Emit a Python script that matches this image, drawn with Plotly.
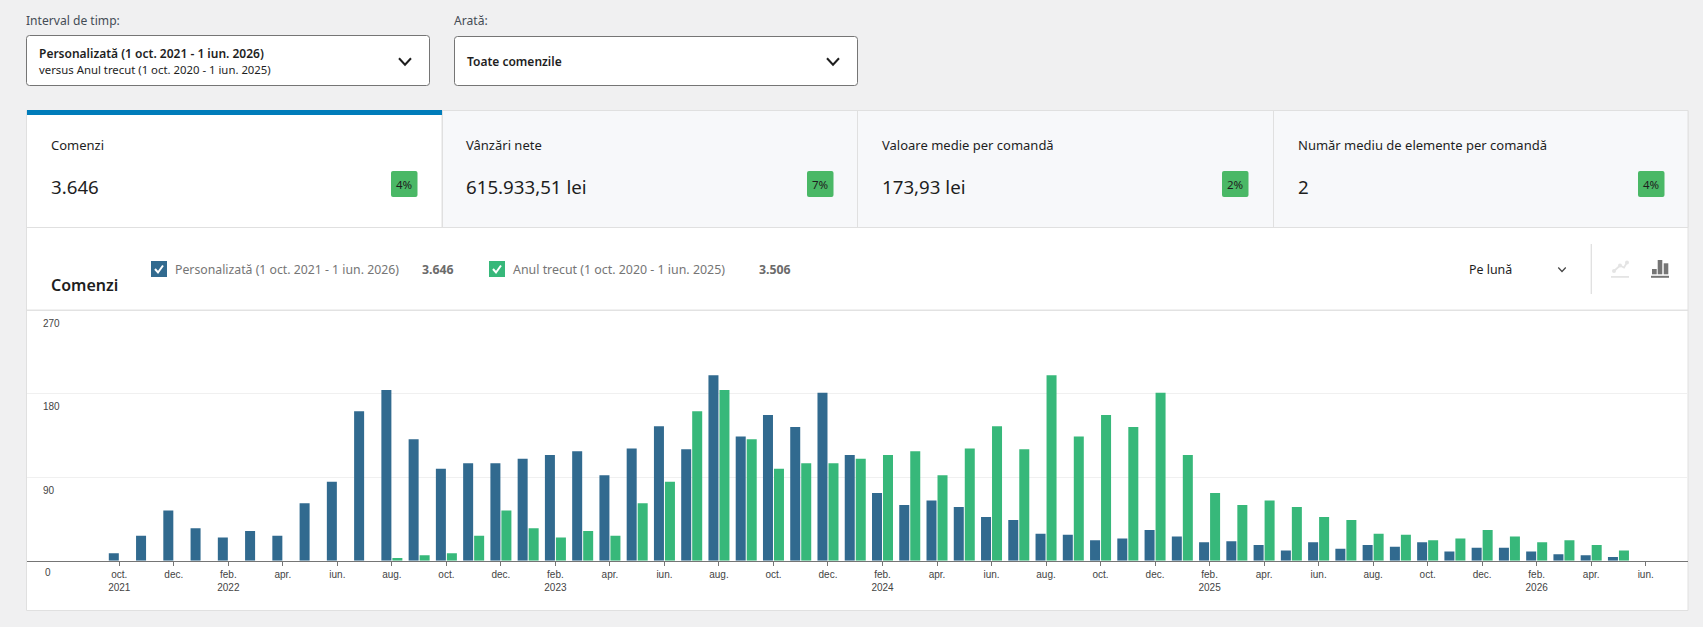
import plotly.graph_objects as go

W, H = 1703, 627

MONTHS = ["2021-10","2021-11","2021-12","2022-01","2022-02","2022-03","2022-04","2022-05","2022-06","2022-07","2022-08","2022-09",
          "2022-10","2022-11","2022-12","2023-01","2023-02","2023-03","2023-04","2023-05","2023-06","2023-07","2023-08","2023-09",
          "2023-10","2023-11","2023-12","2024-01","2024-02","2024-03","2024-04","2024-05","2024-06","2024-07","2024-08","2024-09",
          "2024-10","2024-11","2024-12","2025-01","2025-02","2025-03","2025-04","2025-05","2025-06","2025-07","2025-08","2025-09",
          "2025-10","2025-11","2025-12","2026-01","2026-02","2026-03","2026-04","2026-05","2026-06"]
CURRENT = [8,27,54,35,25,32,27,62,85,161,184,131,
           99,105,105,110,114,118,92,121,145,120,200,134,
           157,144,181,114,73,60,65,58,47,44,29,28,
           22,24,33,26,20,21,17,11,20,13,17,15,
           20,10,14,14,10,7,6,4,0]
PREVIOUS = [0,0,0,0,0,0,0,0,0,0,3,6,
            8,27,54,35,25,32,27,62,85,161,184,131,
            99,105,105,110,114,118,92,121,145,120,200,134,
            157,144,181,114,73,60,65,58,47,44,29,28,
            22,24,33,26,20,22,17,11,0]
TICK_MONTHS = MONTHS[::2]
TICK_TEXT = ["oct.<br>2021","dec.","feb.<br>2022","apr.","iun.","aug.","oct.","dec.",
             "feb.<br>2023","apr.","iun.","aug.","oct.","dec.",
             "feb.<br>2024","apr.","iun.","aug.","oct.","dec.",
             "feb.<br>2025","apr.","iun.","aug.","oct.","dec.",
             "feb.<br>2026","apr.","iun."]
Y_TICKS = [0, 90, 180, 270]
NAME_CUR = "Personalizată (1 oct. 2021 - 1 iun. 2026)"
NAME_PREV = "Anul trecut (1 oct. 2020 - 1 iun. 2025)"
TILES = [("Comenzi","3.646","4%"),("Vânzări nete","615.933,51 lei","7%"),
         ("Valoare medie per comandă","173,93 lei","2%"),("Număr mediu de elemente per comandă","2","4%")]

BLUE, GREEN = "#316a8f", "#37b87a"
FONT = "Noto Sans"
INK = "#1e1e1e"

def px(x): return x / W
def py(y): return 1 - y / H

shapes, notes = [], []

def rect(x0, y0, x1, y1, fill, line=None, width=1, layer="below"):
    shapes.append(dict(type="rect", xref="paper", yref="paper", x0=px(x0), x1=px(x1), y0=py(y0), y1=py(y1),
                       fillcolor=fill, line=dict(color=line or fill, width=width if line else 0), layer=layer))

def rrect(x0, y0, x1, y1, r, fill, line=None, layer="below"):
    X0, X1, Y0, Y1 = px(x0), px(x1), py(y0), py(y1)
    rx, ry = r / W, r / H
    p = (f"M{X0+rx},{Y0} L{X1-rx},{Y0} Q{X1},{Y0} {X1},{Y0-ry} L{X1},{Y1+ry} Q{X1},{Y1} {X1-rx},{Y1} "
         f"L{X0+rx},{Y1} Q{X0},{Y1} {X0},{Y1+ry} L{X0},{Y0-ry} Q{X0},{Y0} {X0+rx},{Y0} Z")
    shapes.append(dict(type="path", xref="paper", yref="paper", path=p, fillcolor=fill,
                       line=dict(color=line or fill, width=1 if line else 0), layer=layer))

def poly(points, color, width=1.5, layer="above"):
    p = "M" + " L".join(f"{px(a)},{py(b)}" for a, b in points)
    shapes.append(dict(type="path", xref="paper", yref="paper", path=p,
                       line=dict(color=color, width=width), layer=layer))

def dot(cx, cy, r, color):
    shapes.append(dict(type="circle", xref="paper", yref="paper", x0=px(cx-r), x1=px(cx+r), y0=py(cy+r), y1=py(cy-r),
                       fillcolor=color, line=dict(width=0), layer="above"))

def text(x, y, s, size=13, color=INK, weight=400, anchor="left", family=FONT):
    notes.append(dict(xref="paper", yref="paper", x=px(x), y=py(y), text=s, showarrow=False,
                      xanchor=anchor, yanchor="middle", borderpad=0, borderwidth=0,
                      font=dict(size=size, color=color, family=family, weight=weight)))

def chevron(cx, cy, w, h, color, width):
    poly([(cx - w/2, cy - h/2), (cx, cy + h/2), (cx + w/2, cy - h/2)], color, width)

# filter controls
text(26, 20, "Interval de timp:", 12.1, "#444c55")
rrect(26.5, 35.5, 429.5, 85.5, 3, "#ffffff", "#757575")
text(39, 53.5, "Personalizată (1 oct. 2021 - 1 iun. 2026)", 12, INK, 600)
text(39, 69.5, "versus Anul trecut (1 oct. 2020 - 1 iun. 2025)", 11.35, INK)
chevron(405, 61.5, 12, 6.5, INK, 2)
text(454, 20.5, "Arată:", 12.1, "#444c55")
rrect(454.5, 36.5, 857.5, 85.5, 3, "#ffffff", "#757575")
text(467, 61.5, "Toate comenzile", 12, INK, 600)
chevron(833, 61.5, 12, 6.5, INK, 2)

# card and tiles
rect(26.5, 110.5, 1688, 610.5, "#ffffff", "#e0e0e0")
rect(442, 110.5, 1688, 227.5, "#f7f8fa", "#e0e0e0")
rect(27, 110, 442, 115, "#007cba")
for xd in (442.5, 857.5, 1273.5):
    rect(xd, 111, xd, 227, "#e0e0e0", "#e0e0e0")
rect(26.5, 227.5, 1688, 227.5, "#e0e0e0", "#e0e0e0")
TEXT_X = [51, 466, 882, 1298]
BADGE_X = [391, 807, 1222, 1638]
for (label, val, pct), tx, bx in zip(TILES, TEXT_X, BADGE_X):
    text(tx, 145, label, 13)
    text(tx, 186, val, 18.7)
    rrect(bx, 171, bx + 26.5, 197, 2, "#4ab866")
    text(bx + 13.2, 184, pct, 11.5, INK, anchor="center")

# chart header
text(51, 285, "Comenzi", 16, INK, 600)
rect(151, 261, 167, 277, BLUE)
poly([(155, 269), (158, 272.5), (163, 265.5)], "#ffffff", 2)
text(175, 269, NAME_CUR, 12.27, "#757575")
text(421.5, 269, "3.646", 12.3, "#6b6b6b", 700)
rect(489, 261, 505, 277, GREEN)
poly([(493, 269), (496, 272.5), (501, 265.5)], "#ffffff", 2)
text(512.5, 269, NAME_PREV, 12.4, "#757575")
text(759, 269, "3.506", 12.3, "#6b6b6b", 700)
text(1469, 269.5, "Pe lună", 12.4, INK)
chevron(1562, 269.5, 7.5, 4, "#444444", 1.2)
rect(1591.3, 244, 1591.3, 294, "#e0e0e0", "#e0e0e0")
LIGHT = "#e4e4e4"
poly([(1614, 271), (1620, 265.5), (1624, 267.5), (1627, 262.5)], LIGHT, 1.8)
for cx, cy in [(1614, 271), (1620, 265.5), (1627, 262.5)]:
    dot(cx, cy, 2, LIGHT)
rect(1611, 276, 1629, 277.8, LIGHT)
rect(1652, 269, 1656.7, 274.3, "#757575")
rect(1657.7, 260, 1662.3, 274.3, "#757575")
rect(1663.7, 263.3, 1668.3, 274.3, "#757575")
rect(1651, 275.8, 1669, 277.8, "#757575")
rect(27, 310, 1688, 310.5, "#e2e2e2", "#e2e2e2", layer="above")

# The axis hides a label pushed below its own baseline, so the zero is placed from the y scale.
notes.append(dict(xref="paper", yref="y", x=px(43), y=Y_TICKS[0], yshift=-12, text=str(Y_TICKS[0]), showarrow=False,
                  xanchor="left", yanchor="middle", font=dict(family="Liberation Sans", size=10, color="#444444")))

fig = go.Figure()
fig.add_bar(x=MONTHS, y=CURRENT, name=NAME_CUR, marker=dict(color=BLUE, line=dict(width=0)))
fig.add_bar(x=MONTHS, y=PREVIOUS, name=NAME_PREV, marker=dict(color=GREEN, line=dict(width=0)))

STEP = (1645.7 - 119.3) / 56
fig.update_layout(
    width=W, height=H, autosize=False, margin=dict(l=0, r=0, t=0, b=0, pad=0),
    paper_bgcolor="#f0f0f1", plot_bgcolor="rgba(0,0,0,0)", showlegend=False,
    barmode="group", bargap=0.193, bargroupgap=0.09,
    shapes=shapes, annotations=notes,
    xaxis=dict(domain=[px(27), px(1688)], type="category", categoryorder="array", categoryarray=MONTHS,
               range=[-(119.3 - 27) / STEP, 56 + (1688 - 1645.7) / STEP],
               tickmode="array", tickvals=TICK_MONTHS, ticktext=TICK_TEXT, ticks="outside", ticklen=4,
               tickcolor="#757575", tickwidth=1, showline=True, linecolor="#757575", linewidth=1,
               showgrid=False, zeroline=False, tickangle=0,
               tickfont=dict(family="Liberation Sans", size=10, color="#444444")),
    yaxis=dict(domain=[py(560.7), py(310.2)], range=[0, 270], tickmode="array", tickvals=Y_TICKS,
               ticklabelposition="inside", ticklabelshift=13, ticklabelstandoff=13, ticks="",
               showgrid=True, gridcolor="#f0f0f0", gridwidth=1, zeroline=False, showline=False,
               tickfont=dict(family="Liberation Sans", size=10, color="#444444")),
)
fig.write_html("out.html", config=dict(displayModeBar=False),
               post_script="document.body.style.margin='0';document.body.style.overflow='hidden';")
